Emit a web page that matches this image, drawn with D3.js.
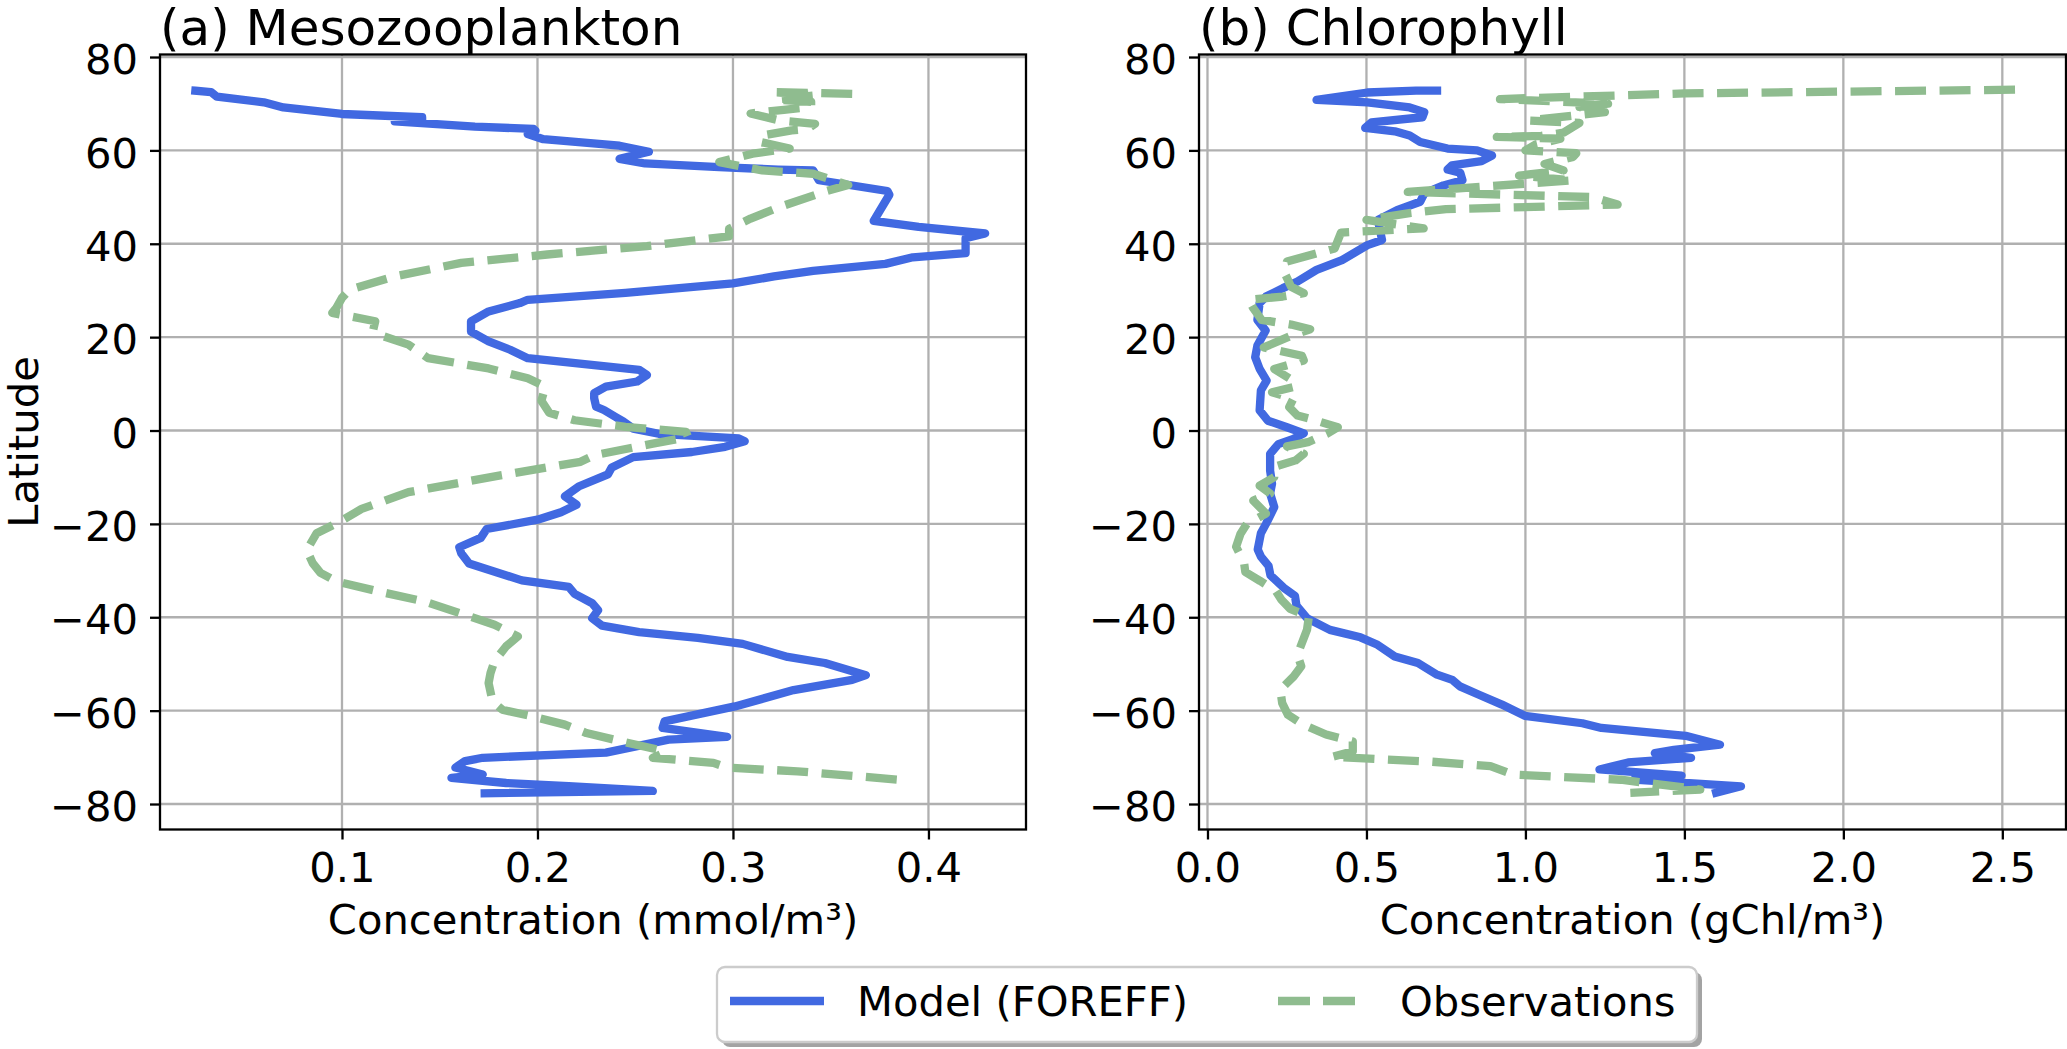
<!DOCTYPE html>
<html><head><meta charset="utf-8">
<script src="https://cdn.jsdelivr.net/npm/d3@7"></script>
<style>
body{margin:0;background:#fff}
svg text{font-family:"DejaVu Sans",sans-serif;fill:#000}
</style>
</head><body>
<svg id="chart" width="2067" height="1049"></svg>
<script>
// ---------------- data ----------------
const latTicks = [-80, -60, -40, -20, 0, 20, 40, 60, 80];
const mesoTicks = [0.1, 0.2, 0.3, 0.4];
const chlTicks = [0.0, 0.5, 1.0, 1.5, 2.0, 2.5];
const panelTitles = ["(a) Mesozooplankton", "(b) Chlorophyll"];
const xLabels = ["Concentration (mmol/m³)", "Concentration (gChl/m³)"];
const seriesNames = ["Model (FOREFF)", "Observations"];

// [latitude, value]
const mesoModel = [[72.8,0.025],[72.5,0.033],[71.5,0.036],[70.3,0.060],[69.2,0.070],[67.8,0.100],[67.1,0.141],[66.5,0.141],[66.2,0.127],[65.1,0.168],[64.6,0.198],[64.2,0.199],[63.5,0.195],[62.4,0.203],[61.0,0.242],[59.7,0.257],[58.2,0.242],[57.2,0.255],[56.4,0.293],[55.9,0.323],[55.7,0.341],[53.6,0.344],[51.3,0.379],[50.5,0.380],[44.9,0.372],[43.6,0.395],[42.2,0.429],[41.2,0.419],[38.0,0.419],[37.1,0.392],[35.7,0.378],[34.2,0.341],[33.0,0.321],[31.5,0.300],[29.5,0.245],[28.0,0.195],[27.3,0.191],[25.5,0.175],[23.4,0.166],[21.2,0.166],[19.1,0.175],[17.3,0.186],[15.5,0.195],[13.0,0.252],[11.9,0.256],[10.5,0.251],[9.4,0.235],[8.0,0.229],[6.9,0.229],[5.1,0.230],[4.4,0.234],[2.9,0.240],[1.9,0.244],[0.4,0.249],[-0.7,0.262],[-1.7,0.303],[-2.3,0.306],[-3.5,0.296],[-4.6,0.279],[-5.7,0.249],[-7.9,0.238],[-9.4,0.236],[-12.0,0.221],[-14.1,0.214],[-15.9,0.220],[-17.5,0.212],[-19.1,0.200],[-21.1,0.174],[-23.0,0.171],[-25.0,0.160],[-26.3,0.161],[-28.5,0.165],[-32.1,0.192],[-33.5,0.216],[-35.0,0.219],[-37.0,0.228],[-38.5,0.231],[-40.2,0.228],[-41.8,0.233],[-43.2,0.252],[-44.4,0.282],[-45.7,0.305],[-48.5,0.328],[-49.8,0.347],[-52.4,0.368],[-53.4,0.361],[-55.6,0.331],[-59.1,0.301],[-62.3,0.265],[-63.7,0.264],[-65.6,0.297],[-66.2,0.267],[-69.0,0.235],[-70.1,0.172],[-70.8,0.163],[-72.2,0.158],[-73.7,0.172],[-74.4,0.156],[-75.5,0.184],[-76.2,0.216],[-77.2,0.259],[-77.7,0.173]];

const mesoObs = [[72.1,0.361],[72.5,0.319],[71.8,0.343],[70.9,0.322],[70.4,0.340],[69.3,0.340],[68.7,0.326],[67.9,0.309],[66.4,0.324],[65.7,0.342],[64.6,0.338],[64.3,0.330],[63.2,0.315],[61.8,0.314],[60.4,0.329],[59.3,0.310],[57.5,0.293],[55.7,0.315],[55.0,0.341],[52.6,0.359],[51.3,0.348],[47.9,0.324],[45.4,0.309],[43.2,0.298],[41.6,0.298],[39.5,0.256],[37.7,0.205],[35.9,0.161],[33.0,0.127],[30.2,0.104],[28.4,0.100],[26.2,0.097],[25.2,0.095],[23.4,0.117],[21.6,0.116],[20.5,0.119],[18.4,0.134],[15.5,0.144],[13.3,0.175],[11.2,0.195],[9.4,0.204],[6.4,0.202],[3.8,0.206],[2.2,0.219],[0.8,0.245],[-0.3,0.276],[-1.4,0.277],[-2.8,0.259],[-5.3,0.229],[-6.7,0.222],[-9.6,0.181],[-13.2,0.134],[-16.8,0.110],[-19.5,0.099],[-22.0,0.087],[-25.6,0.082],[-28.4,0.085],[-30.5,0.089],[-32.3,0.097],[-34.5,0.119],[-36.6,0.142],[-39.5,0.163],[-41.6,0.178],[-44.1,0.190],[-46.2,0.184],[-49.4,0.178],[-51.9,0.176],[-54.1,0.175],[-58.0,0.177],[-59.8,0.182],[-61.2,0.197],[-63.0,0.214],[-64.8,0.225],[-66.5,0.242],[-68.3,0.261],[-69.0,0.265],[-70.1,0.259],[-71.2,0.290],[-72.2,0.297],[-73.0,0.333],[-74.9,0.388]];

const chlModel = [[72.8,0.722],[72.8,0.656],[72.4,0.503],[70.8,0.343],[70.3,0.503],[69.2,0.636],[68.2,0.682],[67.1,0.676],[66.0,0.516],[64.8,0.496],[64.1,0.589],[63.2,0.636],[61.8,0.669],[60.4,0.755],[60.0,0.848],[58.9,0.895],[57.7,0.862],[56.8,0.769],[55.9,0.755],[55.2,0.795],[53.6,0.802],[52.5,0.742],[50.8,0.682],[49.0,0.669],[47.2,0.596],[45.1,0.536],[40.8,0.549],[39.7,0.503],[38.1,0.463],[36.5,0.423],[34.4,0.343],[31.9,0.283],[30.5,0.237],[28.7,0.184],[27.3,0.164],[23.7,0.157],[21.4,0.183],[18.2,0.157],[15.7,0.150],[13.2,0.164],[10.7,0.186],[8.6,0.168],[4.3,0.164],[2.1,0.190],[0.7,0.250],[-0.6,0.303],[-1.8,0.270],[-2.9,0.223],[-5.0,0.197],[-8.6,0.197],[-11.4,0.203],[-13.5,0.197],[-16.4,0.210],[-20.0,0.184],[-22.0,0.168],[-25.5,0.158],[-27.0,0.168],[-29.0,0.192],[-31.0,0.198],[-33.7,0.240],[-35.4,0.275],[-37.5,0.280],[-40.2,0.313],[-42.7,0.385],[-44.3,0.481],[-45.9,0.535],[-48.4,0.589],[-49.8,0.662],[-52.3,0.722],[-53.4,0.770],[-54.8,0.794],[-56.6,0.854],[-58.7,0.926],[-61.1,0.998],[-62.7,1.179],[-63.7,1.239],[-65.4,1.504],[-67.3,1.612],[-68.4,1.467],[-69.1,1.407],[-70.1,1.521],[-71.1,1.323],[-72.6,1.233],[-73.9,1.491],[-74.8,1.341],[-76.2,1.678],[-77.6,1.600]];

const chlObs = [[73.0,2.54],[72.2,1.50],[71.0,0.92],[70.0,1.26],[69.3,1.17],[68.2,1.25],[66.4,1.01],[65.9,1.17],[63.8,1.12],[63.1,1.05],[62.9,0.91],[62.5,1.11],[61.2,1.03],[60.0,1.00],[59.4,1.16],[58.6,1.15],[57.1,1.06],[55.7,1.12],[54.6,0.98],[53.6,1.15],[51.1,0.63],[50.0,1.21],[48.4,1.29],[47.4,0.75],[46.6,0.64],[45.1,0.50],[43.3,0.68],[42.4,0.42],[39.0,0.40],[36.2,0.25],[33.7,0.243],[30.8,0.263],[29.4,0.303],[28.7,0.237],[28.0,0.130],[26.2,0.144],[23.7,0.170],[22.7,0.263],[21.7,0.323],[20.3,0.263],[17.8,0.177],[16.0,0.297],[15.0,0.303],[13.2,0.210],[10.3,0.277],[9.3,0.270],[8.2,0.203],[6.8,0.270],[5.0,0.257],[3.2,0.283],[2.5,0.323],[0.7,0.410],[-0.7,0.376],[-2.5,0.316],[-3.4,0.250],[-5.0,0.303],[-6.4,0.277],[-7.8,0.210],[-10.0,0.210],[-11.8,0.164],[-13.5,0.197],[-15.0,0.144],[-17.8,0.184],[-20.0,0.124],[-22.1,0.104],[-24.9,0.090],[-28.3,0.115],[-30.3,0.119],[-32.2,0.165],[-34.4,0.215],[-36.3,0.233],[-38.2,0.260],[-39.8,0.319],[-42.7,0.313],[-48.0,0.283],[-50.5,0.295],[-52.7,0.271],[-55.5,0.229],[-58.4,0.235],[-60.9,0.253],[-63.0,0.301],[-65.1,0.373],[-66.6,0.457],[-68.7,0.457],[-69.9,0.391],[-70.9,0.698],[-71.9,0.890],[-73.7,0.962],[-74.8,1.30],[-76.9,1.55],[-77.6,1.33]];

// ---------------- styles / layout ----------------
const BLUE = "#4169e1", GREEN = "#8fbc8f";
const FS = 41.7, TITLE_FS = 50;
const LW = 8.3, DASH = "31,13.5";
const SPINE = 2.3, GRID = "#b0b0b0";
const yDomain = [-85.46, 80.54];

const panels = [
  {left:160, right:1026, top:54.5, bottom:829.5, xDomain:[0.0069, 0.4499], xTicks:mesoTicks, fmt:d3.format(".1f"),
   model:mesoModel, obs:mesoObs, title:panelTitles[0], xlabel:xLabels[0], ylabel:"Latitude"},
  {left:1199, right:2066, top:54.5, bottom:829.5, xDomain:[-0.0267, 2.7003], xTicks:chlTicks, fmt:d3.format(".1f"),
   model:chlModel, obs:chlObs, title:panelTitles[1], xlabel:xLabels[1], ylabel:null}
];

const svg = d3.select("#chart");
svg.append("rect").attr("width",2067).attr("height",1049).attr("fill","#fff");

panels.forEach((p, i) => {
  const x = d3.scaleLinear().domain(p.xDomain).range([p.left, p.right]);
  const y = d3.scaleLinear().domain(yDomain).range([p.bottom, p.top]);
  const g = svg.append("g");

  const clipId = "clip" + i;
  svg.append("clipPath").attr("id", clipId).append("rect")
    .attr("x", p.left).attr("y", p.top).attr("width", p.right - p.left).attr("height", p.bottom - p.top);

  // grid
  const grid = g.append("g");
  grid.selectAll(".gx").data(p.xTicks).join("line").attr("class","gx")
    .attr("x1", d => x(d)).attr("x2", d => x(d)).attr("y1", p.top).attr("y2", p.bottom)
    .attr("stroke", GRID).attr("stroke-width", SPINE);
  grid.selectAll(".gy").data(latTicks).join("line").attr("class","gy")
    .attr("y1", d => y(d)).attr("y2", d => y(d)).attr("x1", p.left).attr("x2", p.right)
    .attr("stroke", GRID).attr("stroke-width", SPINE);

  const line = d3.line().x(d => x(d[1])).y(d => y(d[0]));
  const lines = g.append("g").attr("clip-path", `url(#${clipId})`);
  lines.append("path").datum(p.model).attr("d", line)
    .attr("fill","none").attr("stroke", BLUE).attr("stroke-width", LW)
    .attr("stroke-linejoin","round").attr("stroke-linecap","square");
  lines.append("path").datum(p.obs).attr("d", line)
    .attr("fill","none").attr("stroke", GREEN).attr("stroke-width", LW)
    .attr("stroke-linejoin","round").attr("stroke-linecap","butt")
    .attr("stroke-dasharray", DASH);

  // axes via d3
  const xAxis = d3.axisBottom(x).tickValues(p.xTicks).tickFormat(p.fmt).tickSize(10).tickPadding(11);
  const yAxis = d3.axisLeft(y).tickValues(latTicks).tickFormat(d3.format("d")).tickSize(10).tickPadding(12);
  const gx = g.append("g").attr("transform", `translate(0,${p.bottom})`).call(xAxis);
  const gy = g.append("g").attr("transform", `translate(${p.left},0)`).call(yAxis);
  [gx, gy].forEach(a => {
    a.select(".domain").remove();
    a.selectAll(".tick line").attr("stroke","#000").attr("stroke-width", SPINE);
    a.selectAll(".tick text").attr("font-size", FS).attr("font-family","DejaVu Sans").attr("fill","#000");
  });
  gx.selectAll(".tick text").attr("dy", null).attr("y", 52.5);
  gy.selectAll(".tick text").attr("dy", "0.4em");

  // spines
  g.append("rect").attr("x", p.left).attr("y", p.top)
    .attr("width", p.right - p.left).attr("height", p.bottom - p.top)
    .attr("fill","none").attr("stroke","#000").attr("stroke-width", SPINE);

  // title
  g.append("text").attr("x", p.left).attr("y", 45).attr("font-size", TITLE_FS).text(p.title);
  // x label
  g.append("text").attr("x", (p.left + p.right) / 2).attr("y", 934)
    .attr("text-anchor","middle").attr("font-size", FS).text(p.xlabel);
  // y label
  if (p.ylabel) {
    g.append("text").attr("transform", `translate(38,${(p.top + p.bottom) / 2}) rotate(-90)`)
      .attr("text-anchor","middle").attr("font-size", FS).text(p.ylabel);
  }
});

// ---------------- legend ----------------
const leg = svg.append("g");
const LX = 717, LY = 967, LWd = 980, LH = 75;
leg.append("rect").attr("x", LX + 5).attr("y", LY + 5).attr("width", LWd).attr("height", LH)
  .attr("rx", 8).attr("fill", "#8c8c8c").attr("opacity", 0.8);
leg.append("rect").attr("x", LX).attr("y", LY).attr("width", LWd).attr("height", LH)
  .attr("rx", 8).attr("fill", "#fff").attr("stroke", "#cccccc").attr("stroke-width", SPINE);
const legItems = [
  {name: seriesNames[0], color: BLUE, dash: null, x0: 730, x1: 824, tx: 857},
  {name: seriesNames[1], color: GREEN, dash: "32,13", x0: 1278, x1: 1360, tx: 1400}
];
legItems.forEach(it => {
  leg.append("line").attr("x1", it.x0).attr("x2", it.x1).attr("y1", 1001).attr("y2", 1001)
    .attr("stroke", it.color).attr("stroke-width", LW)
    .attr("stroke-dasharray", it.dash);
  leg.append("text").attr("x", it.tx).attr("y", 1016).attr("font-size", FS).text(it.name);
});
</script>
</body></html>
